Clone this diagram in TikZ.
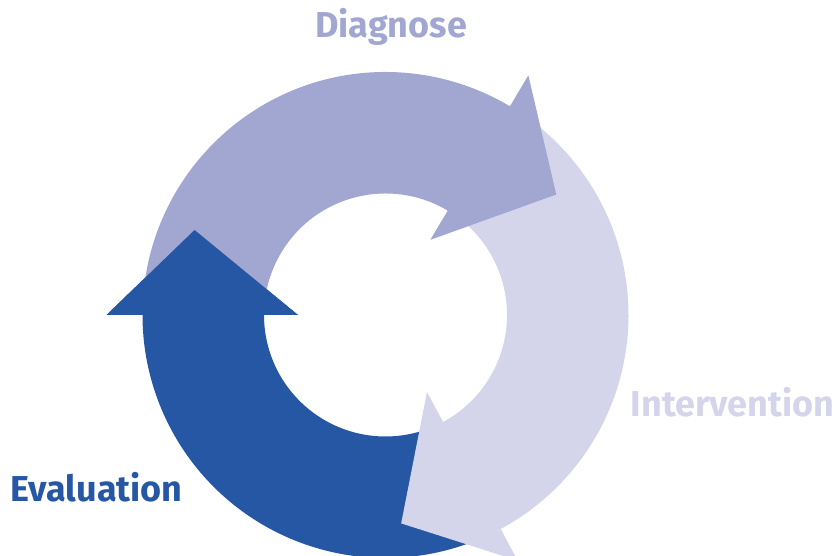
\documentclass[tikz,border=0pt]{standalone}
\usepackage{fontspec}
\setmainfont{Fira Sans}
\usetikzlibrary{calc}
\definecolor{evalblue}{RGB}{37,87,164}
\definecolor{diaglav}{RGB}{162,167,210}
\definecolor{intlight}{RGB}{212,213,234}
\tikzset{
  lbl/.style={font=\fontsize{36}{40}\selectfont\bfseries, inner sep=0pt, anchor=base},
}
% arrow segment: #1 tail angle, #2 base angle
\newcommand{\ringarrow}[3]{%
  \fill[#3] (#1:243) arc[start angle=#1, end angle=#2, radius=243pt]
    -- (#2:279) -- ({#2-24}:209) -- (#2:87.5) -- (#2:121.5)
    arc[start angle=#2, end angle=#1, radius=121.5pt] -- cycle;}
\begin{document}
\begin{tikzpicture}[x=1pt,y=1pt]
\useasboundingbox (0,0) rectangle (839,556);
\begin{scope}[shift={(385.5,241)}]
  \ringarrow{293}{180}{evalblue}
  \ringarrow{52}{-61.7}{intlight}
  \ringarrow{177}{59.2}{diaglav}
  \fill[evalblue] (180:279) -- (156:209) -- (180:87.5) -- cycle;
\end{scope}
\node[lbl, text=diaglav] (diag) at (391,518) {Diagnose};
\node[lbl, text=intlight] (int) at (732.5,139) {Intervention};
\node[lbl, text=evalblue] (eval) at (96.5,54) {Evaluation};
\end{tikzpicture}
\end{document}
